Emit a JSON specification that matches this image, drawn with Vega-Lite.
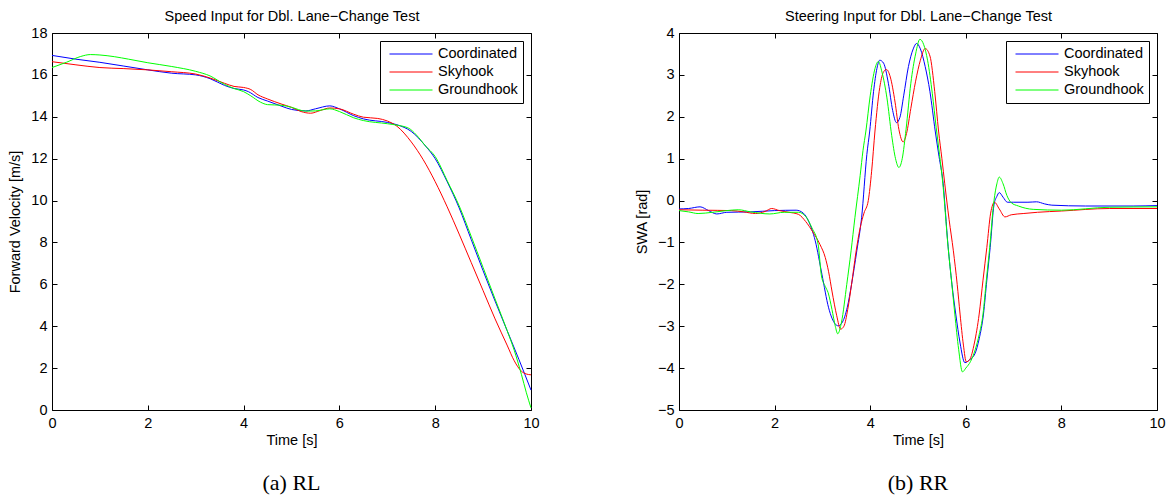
{
  "$schema": "https://vega.github.io/schema/vega-lite/v6.json",
  "background": "white",
  "padding": {"left": 7, "top": 8, "right": 2, "bottom": 2},
  "config": {
    "font": "Liberation Sans",
    "view": {"stroke": null},
    "axis": {"domainColor": "#000000", "domainWidth": 1, "tickColor": "#000000", "tickSize": -5, "tickWidth": 1, "labelFont": "Liberation Sans", "labelFontSize": 14.5, "labelColor": "#000000", "labelPadding": 10, "titleFont": "Liberation Sans", "titleFontSize": 14.5, "titleFontWeight": "normal", "titleColor": "#000000", "titlePadding": 8, "grid": false, "labelFlush": false, "labelOverlap": false},
    "legend": {"orient": "top-right", "offset": 8, "symbolType": "stroke", "symbolSize": 1849, "symbolStrokeWidth": 1, "labelFont": "Liberation Sans", "labelFontSize": 14.5, "labelColor": "#000000", "labelOffset": 5, "symbolOffset": 4, "padding": 5, "clipHeight": 16, "rowPadding": 2, "strokeColor": "#000000", "fillColor": "#ffffff", "labelLimit": 0}
  },
  "datasets": {
    "speed": [
      {"s":"Coordinated","t":0,"v":16.93},{"s":"Coordinated","t":0.5,"v":16.75},{"s":"Coordinated","t":1,"v":16.6},{"s":"Coordinated","t":1.5,"v":16.42},{"s":"Coordinated","t":2,"v":16.24},{"s":"Coordinated","t":2.5,"v":16.08},{"s":"Coordinated","t":3,"v":16.0},{"s":"Coordinated","t":3.3,"v":15.82},{"s":"Coordinated","t":3.6,"v":15.5},{"s":"Coordinated","t":3.8,"v":15.35},{"s":"Coordinated","t":4,"v":15.28},{"s":"Coordinated","t":4.1,"v":15.2},{"s":"Coordinated","t":4.3,"v":14.92},{"s":"Coordinated","t":4.5,"v":14.75},{"s":"Coordinated","t":4.8,"v":14.5},{"s":"Coordinated","t":5,"v":14.35},{"s":"Coordinated","t":5.3,"v":14.28},{"s":"Coordinated","t":5.5,"v":14.38},{"s":"Coordinated","t":5.8,"v":14.52},{"s":"Coordinated","t":6,"v":14.38},{"s":"Coordinated","t":6.3,"v":14.05},{"s":"Coordinated","t":6.5,"v":13.9},{"s":"Coordinated","t":7,"v":13.73},{"s":"Coordinated","t":7.2,"v":13.62},{"s":"Coordinated","t":7.5,"v":13.3},{"s":"Coordinated","t":7.8,"v":12.6},{"s":"Coordinated","t":8,"v":12.0},{"s":"Coordinated","t":8.25,"v":10.9},{"s":"Coordinated","t":8.5,"v":9.65},{"s":"Coordinated","t":8.75,"v":8.15},{"s":"Coordinated","t":9,"v":6.65},{"s":"Coordinated","t":9.25,"v":5.2},{"s":"Coordinated","t":9.5,"v":3.8},{"s":"Coordinated","t":9.75,"v":2.4},{"s":"Coordinated","t":10,"v":0.95},
      {"s":"Skyhook","t":0,"v":16.63},{"s":"Skyhook","t":0.5,"v":16.48},{"s":"Skyhook","t":1,"v":16.35},{"s":"Skyhook","t":1.5,"v":16.3},{"s":"Skyhook","t":2,"v":16.24},{"s":"Skyhook","t":2.5,"v":16.15},{"s":"Skyhook","t":3,"v":16.04},{"s":"Skyhook","t":3.3,"v":15.85},{"s":"Skyhook","t":3.6,"v":15.6},{"s":"Skyhook","t":3.8,"v":15.45},{"s":"Skyhook","t":4,"v":15.4},{"s":"Skyhook","t":4.15,"v":15.3},{"s":"Skyhook","t":4.3,"v":15.05},{"s":"Skyhook","t":4.5,"v":14.85},{"s":"Skyhook","t":4.8,"v":14.6},{"s":"Skyhook","t":5,"v":14.45},{"s":"Skyhook","t":5.2,"v":14.25},{"s":"Skyhook","t":5.4,"v":14.17},{"s":"Skyhook","t":5.6,"v":14.3},{"s":"Skyhook","t":5.8,"v":14.42},{"s":"Skyhook","t":6,"v":14.38},{"s":"Skyhook","t":6.3,"v":14.12},{"s":"Skyhook","t":6.5,"v":13.98},{"s":"Skyhook","t":6.8,"v":13.92},{"s":"Skyhook","t":7,"v":13.8},{"s":"Skyhook","t":7.2,"v":13.55},{"s":"Skyhook","t":7.5,"v":12.8},{"s":"Skyhook","t":7.75,"v":11.95},{"s":"Skyhook","t":8,"v":10.9},{"s":"Skyhook","t":8.25,"v":9.7},{"s":"Skyhook","t":8.5,"v":8.4},{"s":"Skyhook","t":8.75,"v":7.05},{"s":"Skyhook","t":9,"v":5.7},{"s":"Skyhook","t":9.25,"v":4.35},{"s":"Skyhook","t":9.5,"v":3.1},{"s":"Skyhook","t":9.65,"v":2.35},{"s":"Skyhook","t":9.8,"v":1.85},{"s":"Skyhook","t":9.9,"v":1.72},{"s":"Skyhook","t":10,"v":1.68},
      {"s":"Groundhook","t":0,"v":16.35},{"s":"Groundhook","t":0.3,"v":16.6},{"s":"Groundhook","t":0.6,"v":16.88},{"s":"Groundhook","t":0.8,"v":16.97},{"s":"Groundhook","t":1,"v":16.95},{"s":"Groundhook","t":1.3,"v":16.87},{"s":"Groundhook","t":1.6,"v":16.75},{"s":"Groundhook","t":2,"v":16.58},{"s":"Groundhook","t":2.5,"v":16.4},{"s":"Groundhook","t":3,"v":16.17},{"s":"Groundhook","t":3.3,"v":15.95},{"s":"Groundhook","t":3.6,"v":15.55},{"s":"Groundhook","t":3.8,"v":15.35},{"s":"Groundhook","t":4,"v":15.2},{"s":"Groundhook","t":4.15,"v":15.0},{"s":"Groundhook","t":4.35,"v":14.7},{"s":"Groundhook","t":4.5,"v":14.58},{"s":"Groundhook","t":4.8,"v":14.55},{"s":"Groundhook","t":5,"v":14.45},{"s":"Groundhook","t":5.3,"v":14.27},{"s":"Groundhook","t":5.5,"v":14.28},{"s":"Groundhook","t":5.8,"v":14.38},{"s":"Groundhook","t":6,"v":14.25},{"s":"Groundhook","t":6.3,"v":13.95},{"s":"Groundhook","t":6.5,"v":13.82},{"s":"Groundhook","t":7,"v":13.67},{"s":"Groundhook","t":7.2,"v":13.6},{"s":"Groundhook","t":7.45,"v":13.45},{"s":"Groundhook","t":7.6,"v":13.15},{"s":"Groundhook","t":7.8,"v":12.6},{"s":"Groundhook","t":8,"v":12.1},{"s":"Groundhook","t":8.25,"v":10.95},{"s":"Groundhook","t":8.5,"v":9.75},{"s":"Groundhook","t":8.75,"v":8.3},{"s":"Groundhook","t":9,"v":6.8},{"s":"Groundhook","t":9.25,"v":5.3},{"s":"Groundhook","t":9.5,"v":3.8},{"s":"Groundhook","t":9.65,"v":2.85},{"s":"Groundhook","t":9.8,"v":1.7},{"s":"Groundhook","t":9.9,"v":0.85},{"s":"Groundhook","t":10,"v":0.1}
    ],
    "steer": [
      {"s":"Coordinated","t":0,"v":-0.2},{"s":"Coordinated","t":0.2,"v":-0.19},{"s":"Coordinated","t":0.44,"v":-0.15},{"s":"Coordinated","t":0.62,"v":-0.24},{"s":"Coordinated","t":0.79,"v":-0.32},{"s":"Coordinated","t":1.0,"v":-0.28},{"s":"Coordinated","t":1.5,"v":-0.27},{"s":"Coordinated","t":2.0,"v":-0.24},{"s":"Coordinated","t":2.45,"v":-0.23},{"s":"Coordinated","t":2.6,"v":-0.3},{"s":"Coordinated","t":2.71,"v":-0.49},{"s":"Coordinated","t":2.85,"v":-0.96},{"s":"Coordinated","t":2.99,"v":-1.76},{"s":"Coordinated","t":3.13,"v":-2.56},{"s":"Coordinated","t":3.27,"v":-2.95},{"s":"Coordinated","t":3.33,"v":-2.99},{"s":"Coordinated","t":3.42,"v":-2.9},{"s":"Coordinated","t":3.52,"v":-2.55},{"s":"Coordinated","t":3.61,"v":-2.0},{"s":"Coordinated","t":3.72,"v":-1.2},{"s":"Coordinated","t":3.82,"v":-0.41},{"s":"Coordinated","t":3.93,"v":1.1},{"s":"Coordinated","t":3.99,"v":1.66},{"s":"Coordinated","t":4.07,"v":2.6},{"s":"Coordinated","t":4.14,"v":3.15},{"s":"Coordinated","t":4.2,"v":3.35},{"s":"Coordinated","t":4.28,"v":3.28},{"s":"Coordinated","t":4.38,"v":2.8},{"s":"Coordinated","t":4.47,"v":2.15},{"s":"Coordinated","t":4.55,"v":1.86},{"s":"Coordinated","t":4.62,"v":1.98},{"s":"Coordinated","t":4.7,"v":2.5},{"s":"Coordinated","t":4.8,"v":3.2},{"s":"Coordinated","t":4.9,"v":3.62},{"s":"Coordinated","t":4.97,"v":3.75},{"s":"Coordinated","t":5.05,"v":3.62},{"s":"Coordinated","t":5.15,"v":3.2},{"s":"Coordinated","t":5.25,"v":2.6},{"s":"Coordinated","t":5.36,"v":1.66},{"s":"Coordinated","t":5.44,"v":1.05},{"s":"Coordinated","t":5.52,"v":0.47},{"s":"Coordinated","t":5.63,"v":-1.1},{"s":"Coordinated","t":5.71,"v":-2.0},{"s":"Coordinated","t":5.79,"v":-2.71},{"s":"Coordinated","t":5.88,"v":-3.4},{"s":"Coordinated","t":5.98,"v":-3.87},{"s":"Coordinated","t":6.08,"v":-3.8},{"s":"Coordinated","t":6.19,"v":-3.66},{"s":"Coordinated","t":6.28,"v":-3.3},{"s":"Coordinated","t":6.37,"v":-2.71},{"s":"Coordinated","t":6.44,"v":-1.9},{"s":"Coordinated","t":6.51,"v":-1.12},{"s":"Coordinated","t":6.59,"v":-0.1},{"s":"Coordinated","t":6.65,"v":0.1},{"s":"Coordinated","t":6.7,"v":0.19},{"s":"Coordinated","t":6.78,"v":0.08},{"s":"Coordinated","t":6.87,"v":-0.04},{"s":"Coordinated","t":7.0,"v":-0.04},{"s":"Coordinated","t":7.3,"v":-0.04},{"s":"Coordinated","t":7.48,"v":-0.03},{"s":"Coordinated","t":7.65,"v":-0.08},{"s":"Coordinated","t":7.8,"v":-0.11},{"s":"Coordinated","t":8.5,"v":-0.13},{"s":"Coordinated","t":9.5,"v":-0.13},{"s":"Coordinated","t":10,"v":-0.12},
      {"s":"Skyhook","t":0,"v":-0.22},{"s":"Skyhook","t":0.5,"v":-0.23},{"s":"Skyhook","t":1.1,"v":-0.24},{"s":"Skyhook","t":1.35,"v":-0.27},{"s":"Skyhook","t":1.6,"v":-0.31},{"s":"Skyhook","t":1.8,"v":-0.26},{"s":"Skyhook","t":1.94,"v":-0.19},{"s":"Skyhook","t":2.1,"v":-0.24},{"s":"Skyhook","t":2.3,"v":-0.28},{"s":"Skyhook","t":2.5,"v":-0.33},{"s":"Skyhook","t":2.65,"v":-0.5},{"s":"Skyhook","t":2.8,"v":-0.75},{"s":"Skyhook","t":2.95,"v":-1.05},{"s":"Skyhook","t":3.06,"v":-1.36},{"s":"Skyhook","t":3.13,"v":-1.7},{"s":"Skyhook","t":3.2,"v":-2.16},{"s":"Skyhook","t":3.3,"v":-2.75},{"s":"Skyhook","t":3.38,"v":-3.07},{"s":"Skyhook","t":3.45,"v":-3.0},{"s":"Skyhook","t":3.53,"v":-2.6},{"s":"Skyhook","t":3.61,"v":-2.0},{"s":"Skyhook","t":3.7,"v":-1.25},{"s":"Skyhook","t":3.79,"v":-0.65},{"s":"Skyhook","t":3.87,"v":-0.3},{"s":"Skyhook","t":3.96,"v":0.0},{"s":"Skyhook","t":4.03,"v":0.7},{"s":"Skyhook","t":4.1,"v":1.66},{"s":"Skyhook","t":4.2,"v":2.7},{"s":"Skyhook","t":4.27,"v":3.05},{"s":"Skyhook","t":4.34,"v":3.13},{"s":"Skyhook","t":4.42,"v":2.95},{"s":"Skyhook","t":4.52,"v":2.35},{"s":"Skyhook","t":4.6,"v":1.7},{"s":"Skyhook","t":4.69,"v":1.4},{"s":"Skyhook","t":4.76,"v":1.6},{"s":"Skyhook","t":4.85,"v":2.2},{"s":"Skyhook","t":4.95,"v":2.85},{"s":"Skyhook","t":5.05,"v":3.35},{"s":"Skyhook","t":5.15,"v":3.63},{"s":"Skyhook","t":5.25,"v":3.45},{"s":"Skyhook","t":5.35,"v":2.6},{"s":"Skyhook","t":5.43,"v":1.66},{"s":"Skyhook","t":5.5,"v":1.0},{"s":"Skyhook","t":5.56,"v":0.4},{"s":"Skyhook","t":5.65,"v":-0.45},{"s":"Skyhook","t":5.74,"v":-1.2},{"s":"Skyhook","t":5.82,"v":-2.0},{"s":"Skyhook","t":5.88,"v":-2.71},{"s":"Skyhook","t":5.95,"v":-3.45},{"s":"Skyhook","t":6.01,"v":-3.85},{"s":"Skyhook","t":6.08,"v":-3.8},{"s":"Skyhook","t":6.18,"v":-3.4},{"s":"Skyhook","t":6.28,"v":-2.71},{"s":"Skyhook","t":6.36,"v":-1.9},{"s":"Skyhook","t":6.44,"v":-1.12},{"s":"Skyhook","t":6.52,"v":-0.3},{"s":"Skyhook","t":6.6,"v":-0.04},{"s":"Skyhook","t":6.7,"v":-0.2},{"s":"Skyhook","t":6.82,"v":-0.39},{"s":"Skyhook","t":6.95,"v":-0.34},{"s":"Skyhook","t":7.2,"v":-0.31},{"s":"Skyhook","t":7.5,"v":-0.28},{"s":"Skyhook","t":8,"v":-0.25},{"s":"Skyhook","t":9,"v":-0.19},{"s":"Skyhook","t":10,"v":-0.19},
      {"s":"Groundhook","t":0,"v":-0.24},{"s":"Groundhook","t":0.2,"v":-0.27},{"s":"Groundhook","t":0.4,"v":-0.31},{"s":"Groundhook","t":0.7,"v":-0.28},{"s":"Groundhook","t":1.0,"v":-0.24},{"s":"Groundhook","t":1.24,"v":-0.22},{"s":"Groundhook","t":1.5,"v":-0.27},{"s":"Groundhook","t":1.9,"v":-0.32},{"s":"Groundhook","t":2.2,"v":-0.28},{"s":"Groundhook","t":2.5,"v":-0.28},{"s":"Groundhook","t":2.65,"v":-0.38},{"s":"Groundhook","t":2.78,"v":-0.65},{"s":"Groundhook","t":2.91,"v":-1.04},{"s":"Groundhook","t":2.98,"v":-1.8},{"s":"Groundhook","t":3.06,"v":-2.05},{"s":"Groundhook","t":3.12,"v":-2.2},{"s":"Groundhook","t":3.2,"v":-2.6},{"s":"Groundhook","t":3.27,"v":-3.0},{"s":"Groundhook","t":3.32,"v":-3.18},{"s":"Groundhook","t":3.4,"v":-2.9},{"s":"Groundhook","t":3.51,"v":-2.0},{"s":"Groundhook","t":3.6,"v":-1.2},{"s":"Groundhook","t":3.68,"v":-0.41},{"s":"Groundhook","t":3.79,"v":0.6},{"s":"Groundhook","t":3.85,"v":1.2},{"s":"Groundhook","t":3.91,"v":1.66},{"s":"Groundhook","t":4.0,"v":2.5},{"s":"Groundhook","t":4.1,"v":3.15},{"s":"Groundhook","t":4.17,"v":3.32},{"s":"Groundhook","t":4.25,"v":3.05},{"s":"Groundhook","t":4.35,"v":2.45},{"s":"Groundhook","t":4.45,"v":1.55},{"s":"Groundhook","t":4.53,"v":1.0},{"s":"Groundhook","t":4.6,"v":0.79},{"s":"Groundhook","t":4.67,"v":1.0},{"s":"Groundhook","t":4.75,"v":1.7},{"s":"Groundhook","t":4.85,"v":2.8},{"s":"Groundhook","t":4.95,"v":3.5},{"s":"Groundhook","t":5.04,"v":3.85},{"s":"Groundhook","t":5.12,"v":3.72},{"s":"Groundhook","t":5.2,"v":3.35},{"s":"Groundhook","t":5.3,"v":2.55},{"s":"Groundhook","t":5.38,"v":1.75},{"s":"Groundhook","t":5.45,"v":1.1},{"s":"Groundhook","t":5.52,"v":0.4},{"s":"Groundhook","t":5.63,"v":-1.12},{"s":"Groundhook","t":5.7,"v":-1.9},{"s":"Groundhook","t":5.77,"v":-2.71},{"s":"Groundhook","t":5.85,"v":-3.55},{"s":"Groundhook","t":5.93,"v":-4.09},{"s":"Groundhook","t":6.0,"v":-4.0},{"s":"Groundhook","t":6.1,"v":-3.84},{"s":"Groundhook","t":6.2,"v":-3.55},{"s":"Groundhook","t":6.28,"v":-3.2},{"s":"Groundhook","t":6.36,"v":-2.71},{"s":"Groundhook","t":6.43,"v":-1.9},{"s":"Groundhook","t":6.5,"v":-1.12},{"s":"Groundhook","t":6.59,"v":0.0},{"s":"Groundhook","t":6.65,"v":0.4},{"s":"Groundhook","t":6.7,"v":0.56},{"s":"Groundhook","t":6.78,"v":0.4},{"s":"Groundhook","t":6.86,"v":0.12},{"s":"Groundhook","t":6.95,"v":-0.05},{"s":"Groundhook","t":7.1,"v":-0.13},{"s":"Groundhook","t":7.41,"v":-0.21},{"s":"Groundhook","t":8,"v":-0.23},{"s":"Groundhook","t":9,"v":-0.16},{"s":"Groundhook","t":10,"v":-0.15}
    ]
  },
  "hconcat": [
    {
      "width": 479,
      "height": 377,
      "data": {"name": "speed"},
      "title": {"text": "(a) RL", "orient": "bottom", "font": "Liberation Serif", "fontSize": 22, "fontWeight": "normal", "color": "#000000", "offset": 26},
      "layer": [
        {
          "mark": {"type": "line", "strokeWidth": 1, "interpolate": "monotone"},
          "encoding": {
            "x": {"field": "t", "type": "quantitative", "scale": {"domain": [0, 10], "nice": false, "zero": false}, "axis": {"title": "Time [s]", "orient": "bottom", "values": [0, 2, 4, 6, 8, 10], "labelPadding": 11, "titlePadding": 4}},
            "y": {"field": "v", "type": "quantitative", "scale": {"domain": [0, 18], "nice": false}, "axis": {"title": "Forward Velocity [m/s]", "orient": "left", "values": [0, 2, 4, 6, 8, 10, 12, 14, 16, 18]}},
            "color": {"field": "s", "type": "nominal", "scale": {"domain": ["Coordinated", "Skyhook", "Groundhook"], "range": ["#0000ff", "#ff0000", "#00ff00"]}, "legend": {"title": null}}
          }
        },
        {
          "mark": {"type": "line", "opacity": 0},
          "encoding": {
            "x": {"field": "t", "type": "quantitative", "axis": {"title": "Speed Input for Dbl. Lane−Change Test", "orient": "top", "labels": false, "values": [0, 2, 4, 6, 8, 10], "titlePadding": 9}},
            "y": {"field": "v", "type": "quantitative", "axis": {"title": null, "orient": "right", "labels": false, "values": [0, 2, 4, 6, 8, 10, 12, 14, 16, 18]}}
          }
        }
      ],
      "resolve": {"axis": {"x": "independent", "y": "independent"}}
    },
    {
      "width": 478,
      "height": 377,
      "data": {"name": "steer"},
      "title": {"text": "(b) RR", "orient": "bottom", "font": "Liberation Serif", "fontSize": 22, "fontWeight": "normal", "color": "#000000", "offset": 26},
      "layer": [
        {
          "mark": {"type": "line", "strokeWidth": 1, "interpolate": "monotone"},
          "encoding": {
            "x": {"field": "t", "type": "quantitative", "scale": {"domain": [0, 10], "nice": false, "zero": false}, "axis": {"title": "Time [s]", "orient": "bottom", "values": [0, 2, 4, 6, 8, 10], "labelPadding": 11, "titlePadding": 4}},
            "y": {"field": "v", "type": "quantitative", "scale": {"domain": [-5, 4], "nice": false, "zero": false}, "axis": {"title": "SWA [rad]", "orient": "left", "values": [-5, -4, -3, -2, -1, 0, 1, 2, 3, 4]}},
            "color": {"field": "s", "type": "nominal", "scale": {"domain": ["Coordinated", "Skyhook", "Groundhook"], "range": ["#0000ff", "#ff0000", "#00ff00"]}, "legend": {"title": null}}
          }
        },
        {
          "mark": {"type": "line", "opacity": 0},
          "encoding": {
            "x": {"field": "t", "type": "quantitative", "axis": {"title": "Steering Input for Dbl. Lane−Change Test", "orient": "top", "labels": false, "values": [0, 2, 4, 6, 8, 10], "titlePadding": 9}},
            "y": {"field": "v", "type": "quantitative", "axis": {"title": null, "orient": "right", "labels": false, "values": [-5, -4, -3, -2, -1, 0, 1, 2, 3, 4]}}
          }
        }
      ],
      "resolve": {"axis": {"x": "independent", "y": "independent"}}
    }
  ],
  "spacing": 94,
  "resolve": {"legend": {"color": "independent"}}
}
